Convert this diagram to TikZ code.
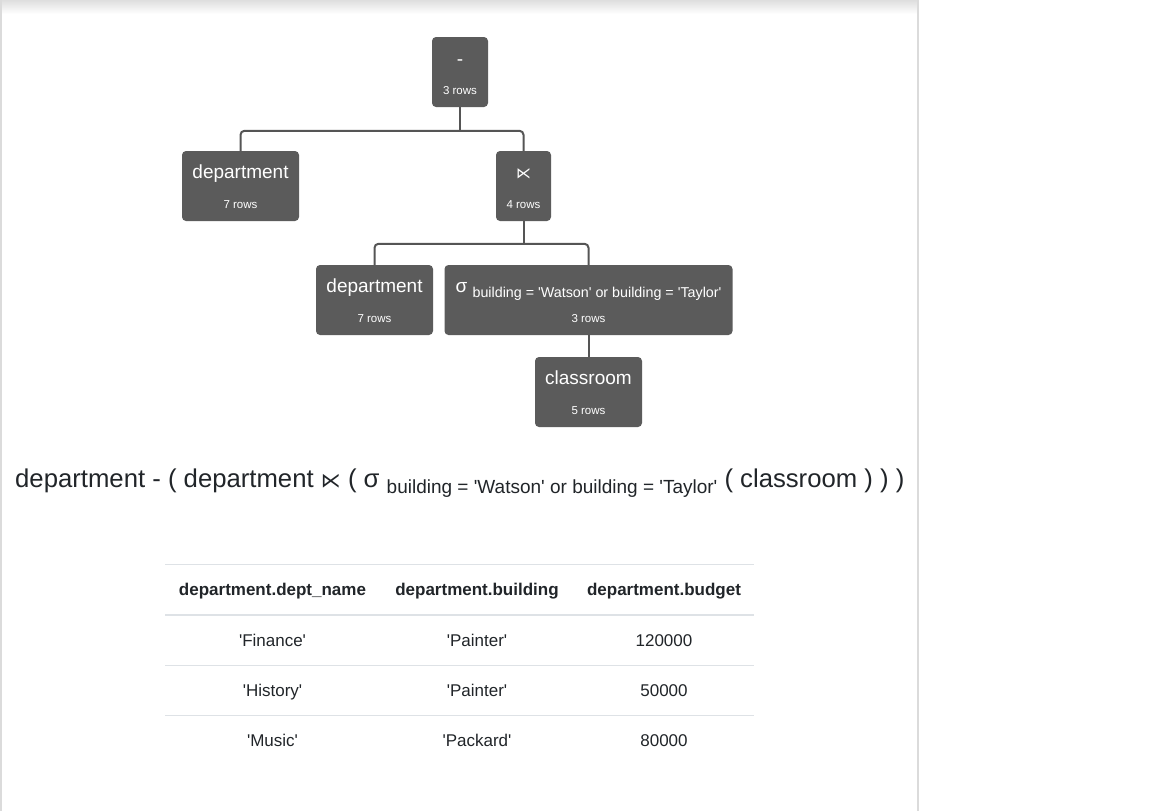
\documentclass[tikz,border=0pt]{standalone}
\usepackage{fontspec}
\setmainfont{Liberation Sans}
\newfontfamily\lsans{Liberation Sans}
\newfontfamily\symfont{DejaVu Sans}
\definecolor{boxgray}{HTML}{5B5B5B}
\definecolor{linegray}{HTML}{555555}
\definecolor{txt}{HTML}{212529}
\definecolor{rule}{HTML}{DEE2E6}
\begin{document}
\begin{tikzpicture}[x=1pt,y=-1pt,
  opbox/.style={fill=boxgray, rounded corners=4pt, inner sep=0pt, draw=none},
  conn/.style={draw=linegray, line width=2pt, rounded corners=4pt},
  title/.style={anchor=base, text=white, inner sep=0pt, font=\lsans\fontsize{19}{22}\selectfont},
  rows/.style={anchor=base, text=white, inner sep=0pt, font=\lsans\fontsize{11.5}{13}\selectfont},
  head/.style={anchor=base, text=txt, inner sep=0pt, font=\lsans\bfseries\fontsize{17}{20}\selectfont},
  cell/.style={anchor=base, text=txt, inner sep=0pt, font=\lsans\fontsize{17}{20}\selectfont},
  hrule/.style={draw=rule, line width=1pt}]
\useasboundingbox (0,0) rectangle (1152,811);
\fill[white] (0,0) rectangle (1152,811);
\shade[top color=black!13, bottom color=white] (0,0) rectangle (918,14);
\draw[black!14, line width=1.5pt] (1,0) -- (1,811);
\draw[black!14, line width=1.5pt] (918,0) -- (918,811);

% boxes
\node[opbox, minimum width=56pt, minimum height=70pt] (root) at (460,72) {};
\node[opbox, minimum width=117pt, minimum height=70pt] (dept1) at (240.5,186) {};
\node[opbox, minimum width=55pt, minimum height=70pt] (semi) at (523.5,186) {};
\node[opbox, minimum width=117pt, minimum height=70pt] (dept2) at (374.5,300) {};
\node[opbox, minimum width=288pt, minimum height=70pt] (sigma) at (588.5,300) {};
\node[opbox, minimum width=107pt, minimum height=70pt] (class) at (588.5,392) {};

% connectors
\draw[conn] (root.south) -- ++(0,24);
\draw[conn] (dept1.north) -- ++(0,-20) -| (semi.north);
\draw[conn] (semi.south) -- ++(0,23);
\draw[conn] (dept2.north) -- ++(0,-21) -| (sigma.north);
\draw[conn] (sigma.south) -- (class.north);

% labels
\node[title] (rootT) at (460,65) {-};
\node[rows] (rootR) at (460,94) {3 rows};
\node[title] (dept1T) at (240.5,178) {department};
\node[rows] (dept1R) at (240.5,208) {7 rows};
\node[title, font=\symfont\fontsize{15}{18}\selectfont] (semiT) at (523.5,178) {⋉};
\node[rows] (semiR) at (523.5,208) {4 rows};
\node[title] (dept2T) at (374.5,292) {department};
\node[rows] (dept2R) at (374.5,322) {7 rows};
\node[title] (sigmaT) at (588.5,292) {σ \raisebox{-5pt}{\fontsize{14.3}{17}\selectfont building = 'Watson' or building = 'Taylor'}};
\node[rows] (sigmaR) at (588.5,322) {3 rows};
\node[title] (classT) at (588.5,384) {classroom};
\node[rows] (classR) at (588.5,414) {5 rows};

% expression
\node[anchor=base west, inner sep=0pt, text=txt, font=\lsans\fontsize{25.7}{30}\selectfont] (expr) at (15,487)
  {department - ( department {\symfont\fontsize{20}{24}\selectfont ⋉} ( σ \raisebox{-6pt}{\fontsize{19}{22}\selectfont building = 'Watson' or building = 'Taylor'} ( classroom ) ) )};

% table
\draw[hrule] (165,564) -- (754,564);
\draw[hrule, line width=2pt] (165,614.5) -- (754,614.5);
\draw[hrule] (165,665) -- (754,665);
\draw[hrule] (165,715) -- (754,715);
\node[head] (h1) at (272.5,595) {department.dept\_name};
\node[head] (h2) at (477,595) {department.building};
\node[head] (h3) at (664,595) {department.budget};
\node[cell] (r1a) at (272.5,646) {'Finance'};
\node[cell] (r1b) at (477,646) {'Painter'};
\node[cell] (r1c) at (664,646) {120000};
\node[cell] (r2a) at (272.5,696) {'History'};
\node[cell] (r2b) at (477,696) {'Painter'};
\node[cell] (r2c) at (664,696) {50000};
\node[cell] (r3a) at (272.5,746) {'Music'};
\node[cell] (r3b) at (477,746) {'Packard'};
\node[cell] (r3c) at (664,746) {80000};
\end{tikzpicture}
\end{document}
